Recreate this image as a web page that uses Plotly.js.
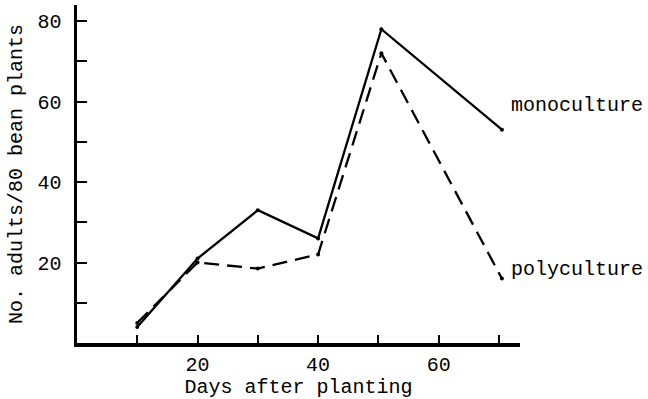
<!DOCTYPE html>
<html>
<head>
<meta charset="utf-8">
<script src="https://cdn.plot.ly/plotly-3.0.1.min.js"></script>
<style>body{margin:0;padding:0;background:#fff}#chart{width:648px;height:399px}</style>
</head>
<body>
<div id="chart"></div>
<script>
const days = [10, 20, 30, 40, 50.5, 70.5];
const monoculture = [4, 21, 33, 26, 78, 53];
const polyculture = [5, 20, 18.5, 22, 72, 16];
const xTickVals = [10, 20, 30, 40, 50, 60, 70];
const xTickText = ['', '20', '', '40', '', '60', ''];
const yTickVals = [10, 20, 30, 40, 50, 60, 70, 80];
const yTickText = ['', '20', '', '40', '', '60', '', '80'];
const seriesNames = ['monoculture', 'polyculture'];

const font = {family: 'Liberation Mono, Courier New, monospace', size: 20, color: '#000'};

const traces = [
  {x: days, y: monoculture, name: seriesNames[0], mode: 'lines+markers', type: 'scatter',
   line: {color: '#000', width: 2.3}, marker: {color: '#000', size: 4}, cliponaxis: false},
  {x: days, y: polyculture, name: seriesNames[1], mode: 'lines+markers', type: 'scatter',
   line: {color: '#000', width: 2.3, dash: '15px,8px'}, marker: {color: '#000', size: 4}, cliponaxis: false}
];

const layout = {
  width: 648, height: 399,
  margin: {l: 77, r: 128, t: 5, b: 56},
  paper_bgcolor: '#fff', plot_bgcolor: '#fff',
  showlegend: false,
  font: font,
  xaxis: {
    range: [0, 73.5], tickvals: xTickVals, ticktext: xTickText,
    ticks: 'inside', ticklen: 8, tickwidth: 2, tickcolor: '#000',
    showline: true, linecolor: '#000', linewidth: 3.5, showgrid: false, zeroline: false,
    tickfont: font,
    title: {text: 'Days after planting', font: font, standoff: 2}
  },
  yaxis: {
    range: [0, 84], tickvals: yTickVals, ticktext: yTickText,
    ticks: 'inside', ticklen: 10, tickwidth: 2, tickcolor: '#000',
    showline: true, linecolor: '#000', linewidth: 3.5, showgrid: false, zeroline: false,
    tickfont: font, ticklabelstandoff: 8,
    title: {text: 'No. adults/80 bean plants', font: font, standoff: 10}
  },
  annotations: [
    {x: 71.6, y: 59, xref: 'x', yref: 'y', text: seriesNames[0], showarrow: false, xanchor: 'left', yanchor: 'middle', font: font},
    {x: 71.6, y: 18.3, xref: 'x', yref: 'y', text: seriesNames[1], showarrow: false, xanchor: 'left', yanchor: 'middle', font: font}
  ]
};

Plotly.newPlot('chart', traces, layout, {displayModeBar: false, staticPlot: true});
</script>
</body>
</html>
